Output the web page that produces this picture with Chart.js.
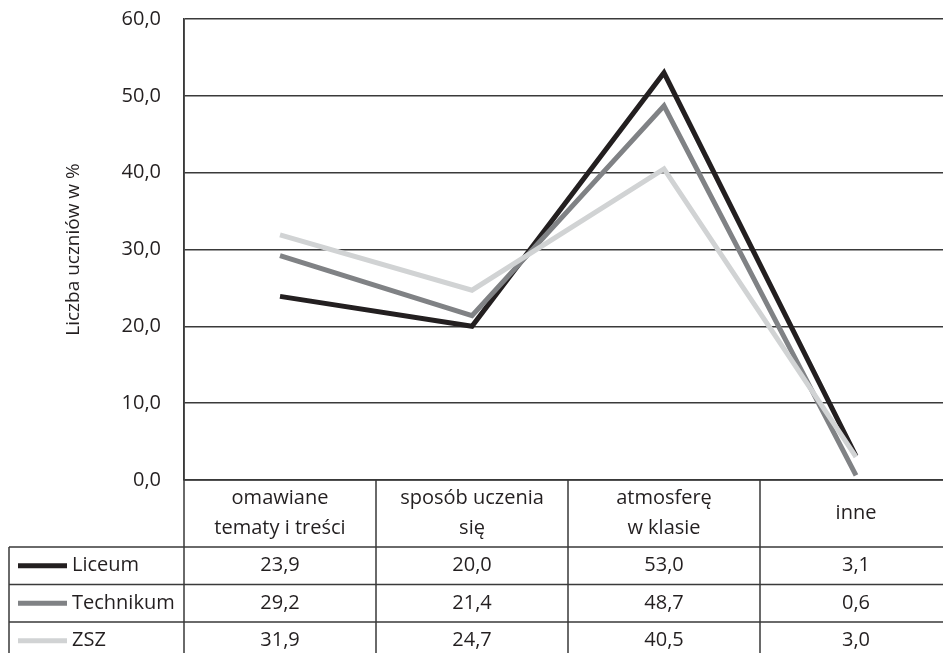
<!DOCTYPE html>
<html>
<head>
<meta charset="utf-8">
<script src="https://cdn.jsdelivr.net/npm/chart.js@4.4.1/dist/chart.umd.min.js"></script>
<style>
  html, body { margin: 0; padding: 0; background: #fff; overflow: hidden; }
  canvas { display: block; }
</style>
</head>
<body>
<canvas id="lineChart" width="960" height="670"></canvas>
<script>
const categories = [['omawiane', 'tematy i treści'], ['sposób uczenia', 'się'], ['atmosferę', 'w klasie'], ['inne']];
const seriesNames = ['Liceum', 'Technikum', 'ZSZ'];
const liceum = [23.9, 20.0, 53.0, 3.1];
const technikum = [29.2, 21.4, 48.7, 0.6];
const zsz = [31.9, 24.7, 40.5, 3.0];
const seriesColors = ['#231f20', '#808285', '#d1d3d4'];

const FONT = '"Open Sans", "Noto Sans", sans-serif';
const LINE = '#3a3a3a';

function fmt(v) {
  return v.toFixed(1).replace('.', ',');
}

// draws the data table under the plot, aligned to the x scale
const tablePlugin = {
  id: 'dataTable',
  afterDraw(chart) {
    const ctx = chart.ctx;
    const x = chart.scales.x;
    const area = chart.chartArea;
    const colW = x.getPixelForValue(1) - x.getPixelForValue(0);
    const left0 = 9;
    const headTop = area.bottom;
    const headH = 67;
    const rowH = 37.5;
    const allSeries = [liceum, technikum, zsz];
    const right = x.getPixelForValue(categories.length - 1) + colW / 2;

    ctx.save();
    ctx.strokeStyle = LINE;
    ctx.lineWidth = 1.5;

    // horizontal lines
    ctx.beginPath();
    ctx.moveTo(area.left, headTop);
    ctx.lineTo(right, headTop);
    for (let r = 0; r <= allSeries.length; r++) {
      const y = headTop + headH + r * rowH;
      ctx.moveTo(left0, y);
      ctx.lineTo(right, y);
    }
    // vertical lines
    const bottom = headTop + headH + allSeries.length * rowH;
    ctx.moveTo(left0, headTop + headH);
    ctx.lineTo(left0, bottom);
    for (let c = 0; c <= categories.length; c++) {
      const cx = x.getPixelForValue(c) - colW / 2;
      ctx.moveTo(cx, c === 0 ? area.top : headTop);
      ctx.lineTo(cx, bottom);
    }
    ctx.stroke();

    ctx.fillStyle = '#231f20';
    ctx.font = '20px ' + FONT;
    ctx.textAlign = 'center';
    ctx.textBaseline = 'middle';

    // header labels
    categories.forEach((lab, i) => {
      const cx = x.getPixelForValue(i);
      const mid = headTop + headH / 2;
      const lh = 30;
      lab.forEach((t, k) => {
        ctx.fillText(t, cx, mid + (k - (lab.length - 1) / 2) * lh);
      });
    });

    // rows
    allSeries.forEach((vals, r) => {
      const cy = headTop + headH + r * rowH + rowH / 2;
      ctx.strokeStyle = seriesColors[r];
      ctx.lineWidth = 5;
      ctx.beginPath();
      ctx.moveTo(18, cy);
      ctx.lineTo(67, cy);
      ctx.stroke();
      ctx.textAlign = 'left';
      ctx.fillText(seriesNames[r], 72, cy);
      ctx.textAlign = 'center';
      vals.forEach((v, i) => {
        ctx.fillText(fmt(v), x.getPixelForValue(i), cy);
      });
    });
    ctx.restore();
  }
};

const ctx = document.getElementById('lineChart').getContext('2d');
const lineChart = new Chart(ctx, {
  type: 'line',
  data: {
    labels: categories,
    datasets: [liceum, technikum, zsz].map((d, i) => ({
      label: seriesNames[i],
      data: d,
      borderColor: seriesColors[i],
      backgroundColor: seriesColors[i],
      borderWidth: 5,
      pointRadius: 0,
      tension: 0,
      borderJoinStyle: 'miter',
      order: 2 - i
    }))
  },
  options: {
    responsive: false,
    animation: false,
    layout: { padding: { top: 19, right: 8, left: 0, bottom: 0 } },
    plugins: {
      legend: { display: false },
      tooltip: { enabled: false }
    },
    scales: {
      x: {
        offset: true,
        grid: { display: false },
        border: { display: false },
        ticks: { display: false },
        afterFit(s) { s.height = 670 - 480; s.paddingLeft = 0; s.paddingRight = 0; }
      },
      y: {
        min: 0,
        max: 60,
        ticks: {
          stepSize: 10,
          padding: 23,
          color: '#231f20',
          font: { family: FONT, size: 20 },
          callback: v => fmt(v)
        },
        grid: { color: LINE, lineWidth: 1.5, drawTicks: false },
        border: { display: true, color: LINE, width: 1.5 },
        title: {
          display: true,
          text: 'Liczba uczniów w %',
          color: '#231f20',
          font: { family: FONT, size: 19 },
          padding: { top: 62, bottom: 0 }
        },
        afterFit(s) { s.width = 184; s.paddingTop = 0; s.paddingBottom = 0; }
      }
    }
  },
  plugins: [tablePlugin]
});
</script>
</body>
</html>
